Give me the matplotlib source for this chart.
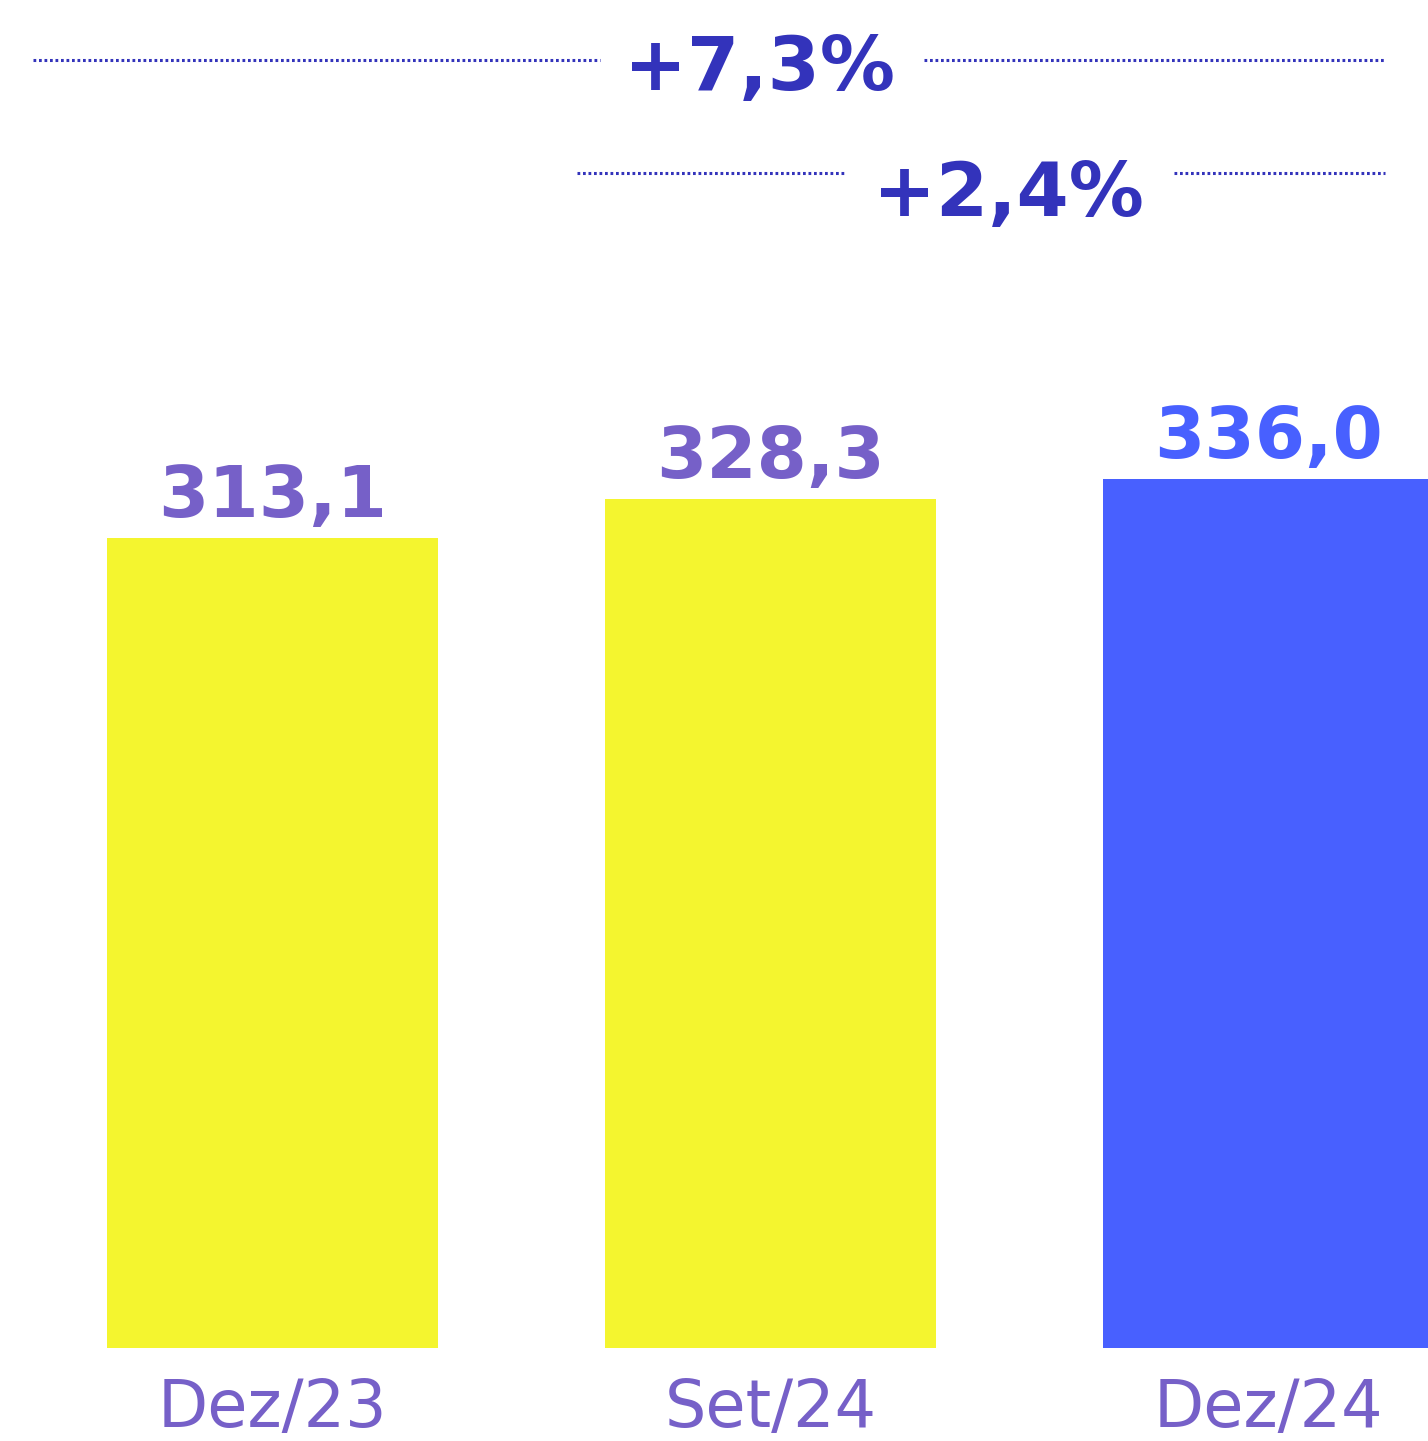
import matplotlib
matplotlib.use("Agg")
import matplotlib.pyplot as plt
from matplotlib.lines import Line2D

categories = ["Dez/23", "Set/24", "Dez/24"]
values = [313.1, 328.3, 336.0]
value_labels = ["313,1", "328,3", "336,0"]
bar_colors = ["#F4F52F", "#F4F52F", "#4860FF"]
label_colors = ["#7660C8", "#7660C8", "#4860FF"]
changes = ["+7,3%", "+2,4%"]

W, H = 1428, 1441
fig = plt.figure(figsize=(W / 100, H / 100), dpi=100)
ax = fig.add_axes([0, (H - 1348) / H, 1, 1348 / H])
ax.set_xlim(-272.5 / 498, (W - 272.5) / 498)
ax.set_ylim(0, 1348 / 2.587)

ax.bar(range(3), values, width=0.665, color=bar_colors)
for i, (v, lab, c) in enumerate(zip(values, value_labels, label_colors)):
    ax.annotate(lab, (i, v), xytext=(0, 15), textcoords="offset points",
                ha="center", va="baseline", fontsize=52, fontweight="heavy",
                color=c, family="DejaVu Sans")

ax.set_xticks(range(3))
ax.set_xticklabels(categories, fontsize=47, color="#7660C8", fontweight="normal")
ax.tick_params(axis="x", length=0, pad=21)
ax.set_yticks([])
for s in ax.spines.values():
    s.set_visible(False)

dark = "#3333BB"
def fx(px):
    return px / W
def fy(py):
    return 1 - py / H

def dotted(x0, x1, y):
    fig.add_artist(Line2D([fx(x0), fx(x1)], [fy(y), fy(y)], transform=fig.transFigure,
                          color=dark, lw=2.2, linestyle=(0, (0.9, 0.9))))

dotted(33, 600, 60)
dotted(924, 1385, 60)
dotted(577, 846, 173)
dotted(1174, 1385, 173)
fig.text(fx(759), fy(90), changes[0], ha="center", va="baseline", fontsize=54,
         fontweight="heavy", color=dark)
fig.text(fx(1008), fy(216), changes[1], ha="center", va="baseline", fontsize=54,
         fontweight="heavy", color=dark)

fig.savefig("out.png", dpi=100)
